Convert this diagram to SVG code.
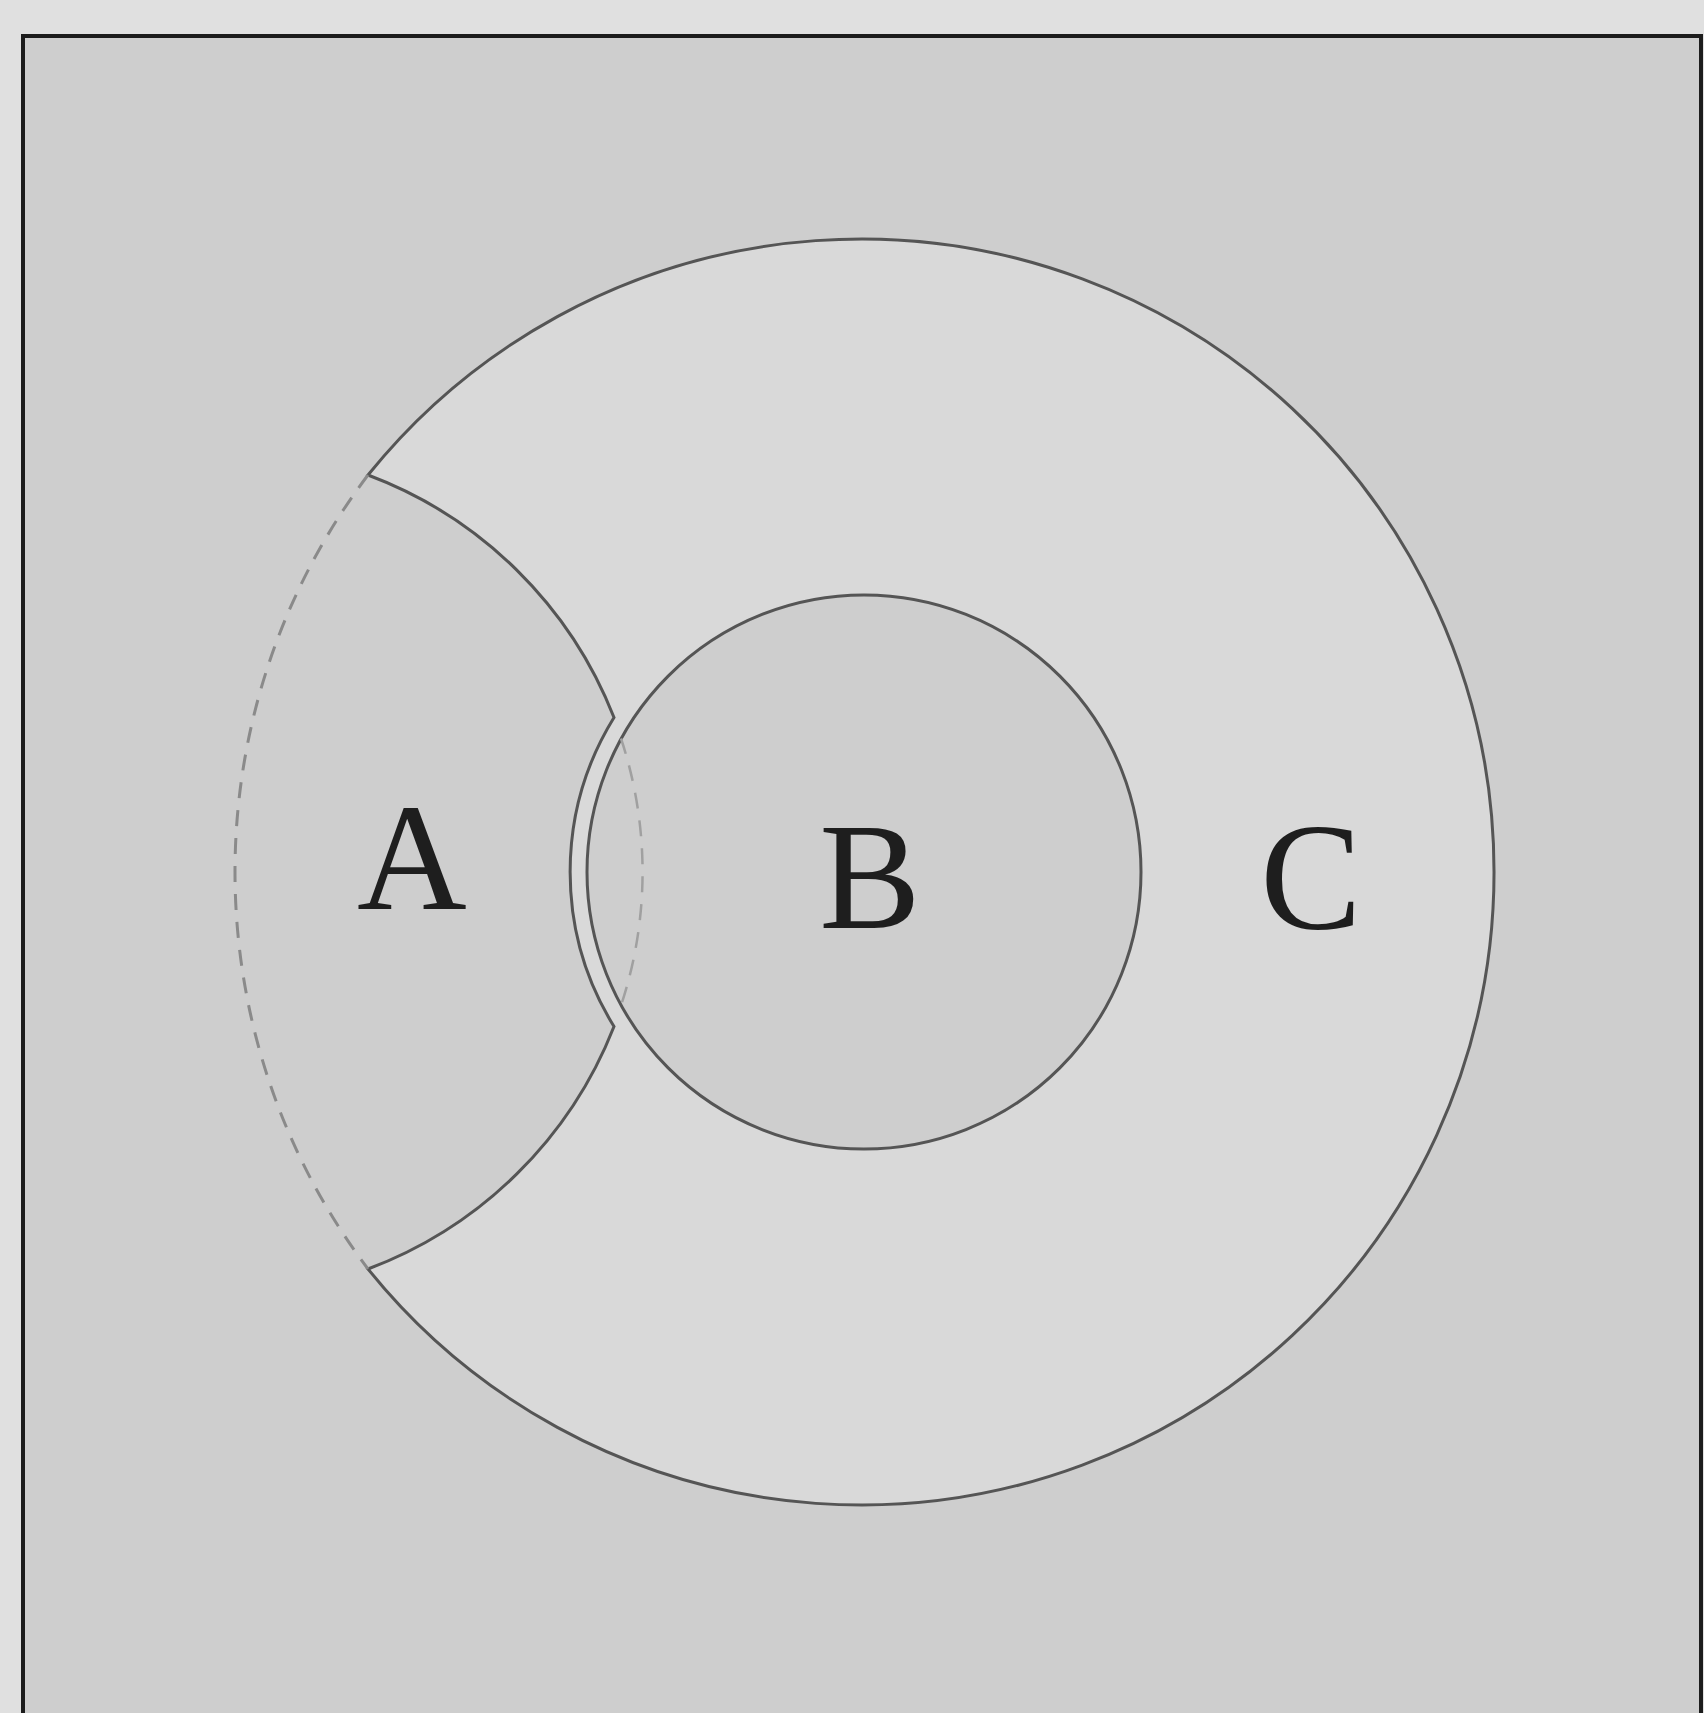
<svg xmlns="http://www.w3.org/2000/svg" width="1704" height="1713" viewBox="0 0 1704 1713">
  <style>
    .outline { stroke: #555; stroke-width: 3; }
    .dashed { fill: none; stroke: #8a8a8a; stroke-width: 3; stroke-dasharray: 16 12; }
    .label { font-family: "Liberation Serif", "Times New Roman", serif; font-size: 152px; fill: #1e1e1e; text-anchor: middle; }
  </style>
  <rect x="0" y="0" width="1704" height="1713" fill="#e0e0e0"/>
  <g id="frame">
    <rect x="23" y="36" width="1678" height="1700" fill="#cecece" stroke="#1c1c1c" stroke-width="4"/>
  </g>
  <g id="C">
    <path class="outline" fill="#d9d9d9" d="M 368 475 A 633 633 0 1 1 368 1269 A 424 424 0 0 0 614 1026.5 A 294 294 0 0 1 614 717.5 A 424 424 0 0 0 368 475 Z"/>
    <path class="dashed" d="M 368 475 A 659 659 0 0 0 368 1269"/>
    <text class="label" x="1311" y="929">C</text>
  </g>
  <g id="B">
    <circle class="outline" cx="864" cy="872" r="277" fill="#cecece"/>
    <text class="label" x="870" y="928">B</text>
  </g>
  <g id="A">
    <path class="dashed" style="stroke:#a0a0a0;stroke-width:2.5" d="M 621 738.5 A 424 424 0 0 1 621 1005.5"/>
    <text class="label" x="412" y="909">A</text>
  </g>
  <g id="connectors"></g>
</svg>
